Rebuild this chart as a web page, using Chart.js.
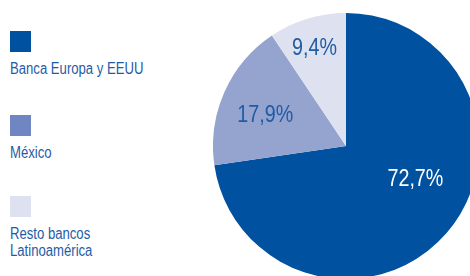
<!DOCTYPE html>
<html>
<head>
<meta charset="utf-8">
<script src="https://cdn.jsdelivr.net/npm/chart.js@4/dist/chart.umd.min.js"></script>
<style>
    html, body { margin: 0; padding: 0; background: #fff; width: 470px; height: 276px; overflow: hidden; }
    #wrap { position: relative; width: 470px; height: 276px; overflow: hidden; }
    #grafico { position: absolute; left: 213px; top: 13px; }
    .leyenda { position: absolute; left: 10px; font-family: "Liberation Sans", Arial, sans-serif; font-size: 16px; line-height: 17px; color: #1f5ca6; }
    .leyenda .caja { width: 21px; height: 21px; margin-bottom: 8px; }
    .leyenda .linea { transform: scaleX(0.82); transform-origin: left center; white-space: nowrap; }
</style>
</head>
<body>
<div id="wrap">
    <div id="leyendas"></div>
    <canvas id="grafico" width="266" height="266"></canvas>
</div>
<script>
(function () {
    'use strict';

    const categorias = ['Banca Europa y EEUU', 'México', 'Resto bancos\nLatinoamérica'];
    const valores = [72.7, 17.9, 9.4];
    const etiquetas = ['72,7%', '17,9%', '9,4%'];

    const coloresSector = ['#0052a0', '#95a3cf', '#dde1f0'];
    const coloresLeyenda = ['#0052a0', '#6f86c2', '#dde1f0'];
    const coloresTexto = ['#ffffff', '#1f5ca6', '#1f5ca6'];
    const posicionLeyenda = [31, 115, 196];

    // posicion de cada etiqueta: fraccion del radio y desvio del angulo medio (grados)
    const fraccionRadio = [0.58, 0.65, 0.77];
    const desvioAngulo = [-15, -3, -1];

    const leyendas = document.getElementById('leyendas');
    categorias.forEach((nombre, i) => {
        const bloque = document.createElement('div');
        bloque.className = 'leyenda';
        bloque.style.top = posicionLeyenda[i] + 'px';
        const caja = document.createElement('div');
        caja.className = 'caja';
        caja.style.background = coloresLeyenda[i];
        bloque.appendChild(caja);
        nombre.split('\n').forEach((linea) => {
            const fila = document.createElement('div');
            fila.className = 'linea';
            fila.textContent = linea;
            bloque.appendChild(fila);
        });
        leyendas.appendChild(bloque);
    });

    const etiquetasPlugin = {
        id: 'etiquetasSector',
        afterDatasetsDraw(chart) {
            const ctx = chart.ctx;
            const arcos = chart.getDatasetMeta(0).data;
            arcos.forEach((arco, i) => {
                const p = arco.getProps(['x', 'y', 'startAngle', 'endAngle', 'outerRadius'], true);
                const medio = (p.startAngle + p.endAngle) / 2 + desvioAngulo[i] * Math.PI / 180;
                const r = p.outerRadius * fraccionRadio[i];
                ctx.save();
                ctx.translate(p.x + Math.cos(medio) * r, p.y + Math.sin(medio) * r);
                ctx.scale(0.82, 1);
                ctx.font = '24px "Liberation Sans", Arial, sans-serif';
                ctx.textAlign = 'center';
                ctx.textBaseline = 'middle';
                ctx.fillStyle = coloresTexto[i];
                ctx.fillText(etiquetas[i], 0, 0);
                ctx.restore();
            });
        },
    };

    new Chart(document.getElementById('grafico'), {
        type: 'pie',
        data: {
            labels: categorias,
            datasets: [{
                data: valores,
                backgroundColor: coloresSector,
                borderWidth: 0,
            }],
        },
        options: {
            responsive: false,
            animation: false,
            layout: { padding: 0 },
            plugins: {
                legend: { display: false },
                tooltip: { enabled: false },
            },
        },
        plugins: [etiquetasPlugin],
    });
})();
</script>
</body>
</html>
